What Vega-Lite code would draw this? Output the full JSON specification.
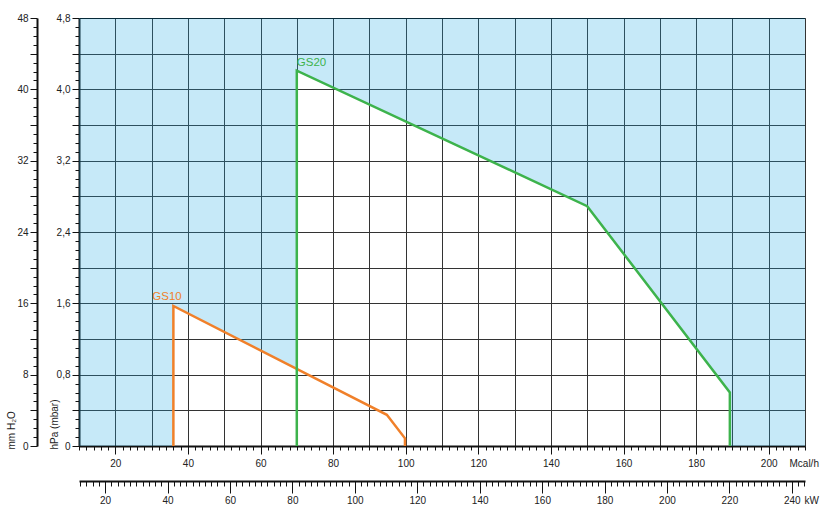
{
  "$schema": "https://vega.github.io/schema/vega-lite/v6.json",
  "width": 726,
  "height": 428,
  "autosize": {"type": "none"},
  "padding": {"left": 79, "top": 18, "right": 25, "bottom": 64},
  "background": "white",
  "config": {
    "view": {"stroke": null},
    "axis": {
      "labelFont": "Liberation Sans",
      "titleFont": "Liberation Sans",
      "labelFontSize": 10,
      "titleFontSize": 10,
      "labelColor": "#222",
      "titleColor": "#222",
      "titleFontWeight": "normal",
      "domainColor": "#111",
      "tickColor": "#111",
      "domainWidth": 2,
      "tickWidth": 1,
      "gridColor": "#333",
      "gridWidth": 1,
      "labelOverlap": false,
      "labelFlush": false
    }
  },
  "datasets": {
    "region": [
      {"mcal": 10, "hpa": 0, "top": 4.8},
      {"mcal": 36, "hpa": 0, "top": 4.8},
      {"mcal": 36, "hpa": 1.57, "top": 4.8},
      {"mcal": 70, "hpa": 0.867, "top": 4.8},
      {"mcal": 70, "hpa": 4.21, "top": 4.8},
      {"mcal": 150, "hpa": 2.69, "top": 4.8},
      {"mcal": 189.3, "hpa": 0.6, "top": 4.8},
      {"mcal": 189.3, "hpa": 0, "top": 4.8},
      {"mcal": 210, "hpa": 0, "top": 4.8}
    ],
    "curves": [
      {"burner": "GS10", "i": 0, "mcal": 36, "hpa": 0},
      {"burner": "GS10", "i": 1, "mcal": 36, "hpa": 1.57},
      {"burner": "GS10", "i": 2, "mcal": 94.8, "hpa": 0.35},
      {"burner": "GS10", "i": 3, "mcal": 99.8, "hpa": 0.086},
      {"burner": "GS10", "i": 4, "mcal": 99.8, "hpa": 0},
      {"burner": "GS20", "i": 0, "mcal": 70, "hpa": 0},
      {"burner": "GS20", "i": 1, "mcal": 70, "hpa": 4.21},
      {"burner": "GS20", "i": 2, "mcal": 150, "hpa": 2.69},
      {"burner": "GS20", "i": 3, "mcal": 189.3, "hpa": 0.6},
      {"burner": "GS20", "i": 4, "mcal": 189.3, "hpa": 0}
    ],
    "labels": [
      {"burner": "GS10", "mcal": 30.2, "hpa": 1.636},
      {"burner": "GS20", "mcal": 70, "hpa": 4.26}
    ],
    "second": [
      {"kw": 12, "mm": 0}
    ]
  },
  "layer": [
    {
      "encoding": {
        "x": {
          "field": "mcal",
          "type": "quantitative",
          "scale": {"domain": [10, 210], "nice": false, "zero": false},
          "axis": {
            "title": "Mcal/h",
            "titleAngle": 0,
            "titleAlign": "left",
            "titleBaseline": "middle",
            "titleX": 710,
            "titleY": 17,
            "values": [10,12,14,16,18,20,22,24,26,28,30,32,34,36,38,40,42,44,46,48,50,52,54,56,58,60,62,64,66,68,70,72,74,76,78,80,82,84,86,88,90,92,94,96,98,100,102,104,106,108,110,112,114,116,118,120,122,124,126,128,130,132,134,136,138,140,142,144,146,148,150,152,154,156,158,160,162,164,166,168,170,172,174,176,178,180,182,184,186,188,190,192,194,196,198,200,202,204,206,208,210],
            "labelExpr": "datum.value % 20 === 0 && datum.value >= 20 && datum.value <= 200 ? '' + datum.value : ''",
            "tickSize": {"condition": {"test": "datum.value % 20 === 0", "value": 8}, "value": 4},
            "labelPadding": 4,
            "grid": true,
            "gridOpacity": {"condition": {"test": "datum.value % 10 === 0", "value": 1}, "value": 0}
          }
        },
        "y": {
          "field": "hpa",
          "type": "quantitative",
          "stack": null,
          "scale": {"domain": [0, 4.8], "nice": false, "zero": true},
          "axis": {
            "title": "hPa (mbar)",
            "titleAngle": 270,
            "titleAlign": "left",
            "titleBaseline": "middle",
            "titleX": -25,
            "titleY": 431,
            "values": [0,0.1,0.2,0.3,0.4,0.5,0.6,0.7,0.8,0.9,1,1.1,1.2,1.3,1.4,1.5,1.6,1.7,1.8,1.9,2,2.1,2.2,2.3,2.4,2.5,2.6,2.7,2.8,2.9,3,3.1,3.2,3.3,3.4,3.5,3.6,3.7,3.8,3.9,4,4.1,4.2,4.3,4.4,4.5,4.6,4.7,4.8],
            "labelExpr": "round(datum.value * 10) % 8 === 0 ? (datum.value === 0 ? '0' : replace(format(datum.value, '.1f'), '.', ',')) : ''",
            "tickSize": {"condition": {"test": "round(datum.value * 10) % 4 === 0", "value": 7}, "value": 4},
            "labelPadding": 2,
            "grid": true,
            "gridOpacity": {"condition": {"test": "round(datum.value * 10) % 4 === 0", "value": 1}, "value": 0},
            "gridColor": {"condition": {"test": "datum.value > 4.75", "value": "#000"}, "value": "#333"}
          }
        }
      },
      "layer": [
        {
          "data": {"name": "region"},
          "mark": {"type": "area", "orient": "vertical", "fill": "#1ba7e3", "fillOpacity": 0.25},
          "encoding": {
            "y2": {"field": "top"}
          }
        },
        {
          "data": {"name": "curves"},
          "mark": {"type": "line", "strokeWidth": 2.5, "strokeCap": "butt", "strokeJoin": "miter"},
          "encoding": {
            "color": {"field": "burner", "type": "nominal", "scale": {"domain": ["GS10", "GS20"], "range": ["#f0802a", "#3db34c"]}, "legend": null},
            "order": {"field": "i", "type": "quantitative"}
          }
        },
        {
          "data": {"name": "labels"},
          "mark": {"type": "text", "align": "left", "baseline": "alphabetic", "font": "Liberation Sans", "fontSize": 11.5},
          "encoding": {
            "text": {"field": "burner"},
            "color": {"field": "burner", "type": "nominal", "scale": {"domain": ["GS10", "GS20"], "range": ["#f0802a", "#3db34c"]}, "legend": null}
          }
        }
      ]
    },
    {
      "data": {"name": "second"},
      "mark": {"type": "point", "opacity": 0},
      "encoding": {
        "x": {
          "field": "kw",
          "type": "quantitative",
          "scale": {"domain": [11.63, 244.23], "nice": false, "zero": false},
          "axis": {
            "orient": "bottom",
            "offset": 35,
            "title": "kW",
            "titleAngle": 0,
            "titleAlign": "left",
            "titleBaseline": "middle",
            "titleX": 725,
            "titleY": 19,
            "values": [12,14,16,18,20,22,24,26,28,30,32,34,36,38,40,42,44,46,48,50,52,54,56,58,60,62,64,66,68,70,72,74,76,78,80,82,84,86,88,90,92,94,96,98,100,102,104,106,108,110,112,114,116,118,120,122,124,126,128,130,132,134,136,138,140,142,144,146,148,150,152,154,156,158,160,162,164,166,168,170,172,174,176,178,180,182,184,186,188,190,192,194,196,198,200,202,204,206,208,210,212,214,216,218,220,222,224,226,228,230,232,234,236,238,240,242,244],
            "labelExpr": "datum.value % 20 === 0 ? '' + datum.value : ''",
            "tickSize": {"condition": {"test": "datum.value % 20 === 0", "value": 12}, "value": 5},
            "labelPadding": 2,
            "grid": false
          }
        },
        "y": {
          "field": "mm",
          "type": "quantitative",
          "scale": {"domain": [0, 48], "nice": false, "zero": true},
          "axis": {
            "orient": "left",
            "offset": 42,
            "title": "mm H₂O",
            "titleAngle": 270,
            "titleAlign": "left",
            "titleBaseline": "middle",
            "titleX": -26,
            "titleY": 431,
            "values": [0,1,2,3,4,5,6,7,8,9,10,11,12,13,14,15,16,17,18,19,20,21,22,23,24,25,26,27,28,29,30,31,32,33,34,35,36,37,38,39,40,41,42,43,44,45,46,47,48],
            "labelExpr": "datum.value % 8 === 0 ? '' + datum.value : ''",
            "tickSize": {"condition": {"test": "datum.value % 4 === 0", "value": 7}, "value": 4},
            "labelPadding": 2,
            "grid": false
          }
        }
      }
    }
  ],
  "resolve": {
    "scale": {"x": "independent", "y": "independent"},
    "axis": {"x": "independent", "y": "independent"}
  }
}
